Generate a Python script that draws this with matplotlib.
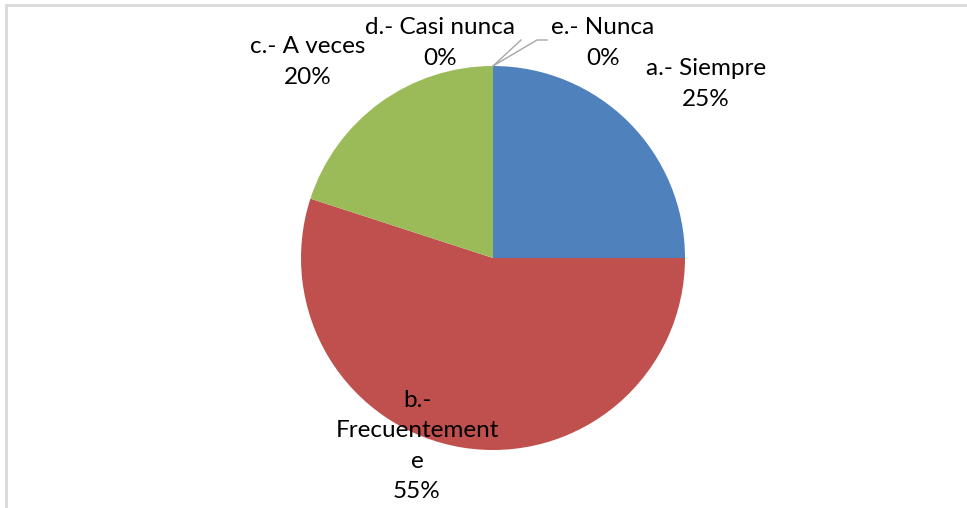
import matplotlib
matplotlib.use("Agg")
import matplotlib.pyplot as plt
from matplotlib.patches import Rectangle

categories = ["a.- Siempre", "b.- Frecuentemente", "c.- A veces", "d.- Casi nunca", "e.- Nunca"]
percent = [25, 55, 20, 0, 0]
label_text = ["a.- Siempre", "b.-\nFrecuentement\ne", "c.- A veces", "d.- Casi nunca", "e.- Nunca"]

colors = ["#4F81BD", "#C0504D", "#9BBB59", "#8064A2", "#4BACC6"]
label_pos = [(706, 424), (417, 62), (308, 446), (440, 465), (603, 465)]

W, H = 967, 508
fig = plt.figure(figsize=(W / 100, H / 100), dpi=100)
ax = fig.add_axes([0, 0, 1, 1])

ax.add_patch(Rectangle((6, -10), W + 20, H - 5 + 10, fill=False,
                       edgecolor="#D9D9D9", linewidth=2))

cx, cy, r = 493, 250, 192
ax.pie(percent, colors=colors, startangle=90, counterclock=False,
       center=(cx, cy), radius=r, frame=True,
       wedgeprops=dict(linewidth=0))
ax.set_xlim(0, W)
ax.set_ylim(0, H)
ax.set_aspect("auto")
ax.axis("off")

for txt, p, (x, y) in zip(label_text, percent, label_pos):
    ax.text(x, y, f"{txt}\n{p}%", ha="center", va="center", fontsize=17.5,
            family="Lato", color="#000000", linespacing=1.55)

# leader lines for zero slices
top = (cx, cy + r)
ax.plot([top[0], 521], [top[1], H - 40], color="#A6A6A6", lw=1)
ax.plot([top[0], 537, 547], [top[1], H - 40, H - 40], color="#A6A6A6", lw=1)

fig.savefig("out.png", dpi=100)
